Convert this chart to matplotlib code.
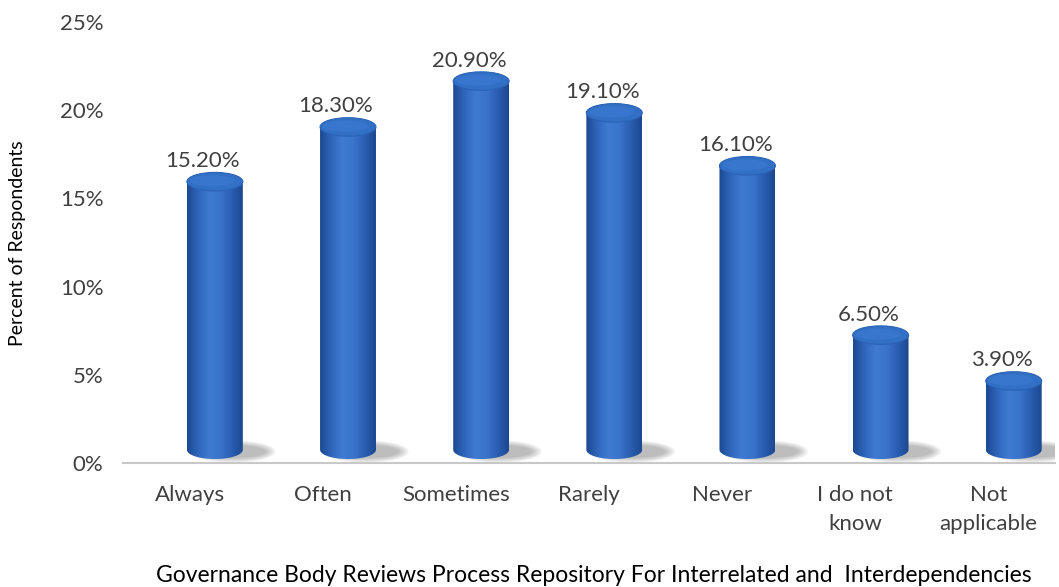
import numpy as np
import matplotlib.pyplot as plt
from matplotlib.patches import Ellipse, PathPatch
from matplotlib.path import Path
from matplotlib.colors import LinearSegmentedColormap

plt.rcParams['font.family'] = ['Lato', 'DejaVu Sans']

categories = ['Always', 'Often', 'Sometimes', 'Rarely', 'Never',
              'I do not\nknow', 'Not\napplicable']
percents = [15.2, 18.3, 20.9, 19.1, 16.1, 6.5, 3.9]
value_labels = ['15.20%', '18.30%', '20.90%', '19.10%', '16.10%', '6.50%', '3.90%']
y_ticks = [0, 5, 10, 15, 20, 25]

text_color = '#404040'
fs = 16
bar_cmap = LinearSegmentedColormap.from_list(
    'cyl', ['#1c4a93', '#2f66bb', '#3f7bd2', '#3a74cb', '#2a5fb3', '#1d4890'])

fig = plt.figure(figsize=(10.59, 5.87), dpi=100)
ax = fig.add_axes([123 / 1059, 124 / 587, 932 / 1059, 441 / 587])

width = 0.42         # cylinder width in category units
cap_h = 1.05         # ellipse height in percent units
dx, dy = 0.19, 0.75  # 3D depth offset of the cylinders

grad = bar_cmap(np.linspace(0, 1, 64))[None, :, :]

for i, v in enumerate(percents):
    xc = i + dx
    base = dy
    top = v + dy
    x0, x1 = xc - width / 2, xc + width / 2

    # soft floor shadow
    for k in range(6):
        ax.add_patch(Ellipse((xc + 0.13, base - 0.1), width * (1.55 - 0.07 * k),
                             cap_h * (1.2 - 0.1 * k), color='#5a5a5a',
                             alpha=0.08, lw=0, zorder=1))

    # cylinder body: rectangle plus lower half ellipse
    t = np.linspace(np.pi, 2 * np.pi, 40)
    bottom_x = xc + width / 2 * np.cos(t)
    bottom_y = base + cap_h / 2 * np.sin(t)
    verts = [(x0, top)] + list(zip(bottom_x, bottom_y)) + [(x1, top), (x0, top)]
    body = PathPatch(Path(verts, closed=True), facecolor='none', lw=0, zorder=2)
    ax.add_patch(body)
    im = ax.imshow(grad, extent=[x0, x1, base - cap_h, top], aspect='auto',
                   zorder=2, interpolation='bicubic')
    im.set_clip_path(body)

    # top cap
    ax.add_patch(Ellipse((xc, top), width, cap_h, facecolor='#3270c6',
                         edgecolor='#2a62b5', lw=0.8, zorder=3))
    ax.add_patch(Ellipse((xc - 0.02, top + 0.05), width * 0.8, cap_h * 0.6,
                         facecolor='#3b7bd1', lw=0, alpha=0.6, zorder=3))

    ax.text(xc - 0.09, top + 0.6, value_labels[i], ha='center', va='bottom',
            fontsize=fs, color=text_color, zorder=4)

ax.set_xlim(-0.5, len(categories) - 0.5)
ax.set_ylim(0, 25)
ax.set_yticks(y_ticks)
ax.set_yticklabels([f'{t}%' for t in y_ticks], fontsize=fs, color=text_color)
ax.set_xticks(range(len(categories)))
ax.set_xticklabels(categories, fontsize=fs, color=text_color, linespacing=1.55)
ax.tick_params(length=0, axis='y', pad=14)
ax.tick_params(length=0, axis='x', pad=16)

for side in ['top', 'right', 'left']:
    ax.spines[side].set_visible(False)
ax.spines['bottom'].set_color('#c8c8c8')
ax.spines['bottom'].set_linewidth(1.5)

fig.text(18 / 1059, 1 - 243 / 587, 'Percent of Respondents', rotation=90,
         ha='center', va='center', fontsize=14, color='black')
fig.text(594 / 1059, 1 - 575 / 587,
         'Governance Body Reviews Process Repository For Interrelated and  Interdependencies',
         ha='center', va='center', fontsize=16.5, color='black')

fig.savefig('out.png', dpi=100)
